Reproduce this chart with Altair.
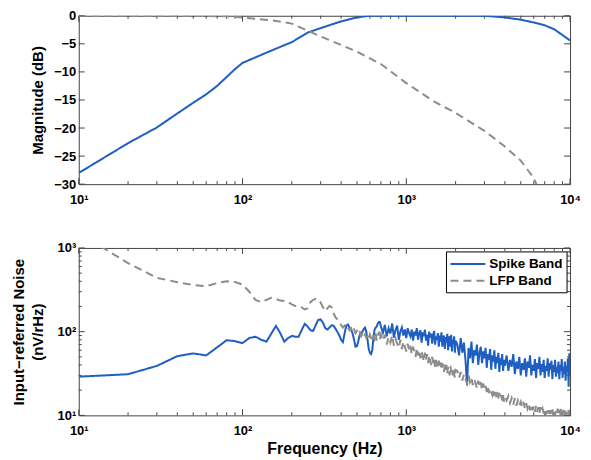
import altair as alt
import pandas as pd

FONT = "Liberation Sans"
BLUE = "#1f5fc2"
GRAY = "#8c8c8c"
FRAME = "#444444"
W, H1, H2 = 493, 169, 168

series_names = ["Spike Band", "LFP Band"]

# ---------------- top panel: magnitude response ----------------
mag_spike_freq = [10, 20, 30, 40, 50, 60, 70, 80, 90, 100, 150, 200, 250, 300, 400, 500, 600, 700,
                  1000, 2000, 3000, 4000, 5000, 6000, 7000, 8000, 10000]
mag_spike_db = [-28, -22.7, -19.9, -17.4, -15.5, -14, -12.5, -10.9, -9.5, -8.4, -6.2, -4.7, -3.0, -2.2,
                -1.0, -0.3, 0, 0, 0, 0, 0, -0.3, -0.7, -1.2, -1.7, -2.4, -4.4]
mag_lfp_freq = [10, 50, 80, 100, 150, 200, 300, 400, 500, 700, 1000, 1500, 2000, 3000, 4000, 5000, 6000, 7000]
mag_lfp_db = [0, 0, -0.1, -0.3, -0.8, -1.4, -3.7, -5.2, -6.4, -8.6, -12, -15.4, -17.3, -20.5, -23.3,
              -25.8, -28.9, -33.5]

# ---------------- bottom panel: input-referred noise ----------------
noise_freq = (list(range(10, 710, 10)) + list(range(720, 2020, 20))
              + list(range(2050, 4050, 50)) + list(range(4100, 10100, 100)))

spike_noise = [
    29, 31, 39, 51, 55, 52, 65, 79, 77, 73,
    84, 87, 80, 76, 95, 117, 96, 76, 84, 89,
    87, 87, 105, 124, 115, 104, 102, 120, 138, 140,
    128, 110, 106, 112, 119, 118, 108, 99, 90, 80,
    75, 95, 118, 122, 112, 106, 95, 80, 66, 67,
    78, 92, 97, 100, 108, 112, 100, 80, 62, 56,
    54, 60, 85, 105, 112, 115, 125, 131, 130, 115,
    # 720..2000 step 20
    97, 120, 88, 110, 95, 125, 85, 105, 118, 80,
    100, 112, 90, 106, 84, 110, 96, 88, 106, 78,
    100, 90, 110, 80, 96, 104, 74, 98, 88, 106,
    78, 92, 68, 100, 85, 95, 72, 92, 102, 70,
    88, 80, 96, 66, 90, 76, 98, 66, 84, 90,
    62, 86, 74, 94, 60, 82, 88, 66, 92, 58,
    80, 72, 88, 56, 78,
    # 2050..4000 step 50
    70, 52, 84, 56, 74, 45, 23, 64, 48, 76,
    42, 60, 52, 70, 40, 56, 66, 42, 58, 48,
    64, 37, 54, 46, 62, 35, 52, 44, 60, 36,
    50, 42, 56, 33, 48, 40, 54, 34, 46, 39,
    # 4100..10000 step 100
    52, 34, 46, 38, 54, 31, 44, 36, 50, 30,
    42, 35, 48, 29, 44, 37, 52, 30, 40, 34,
    47, 28, 42, 36, 50, 30, 41, 33, 46, 28,
    39, 34, 48, 29, 42, 35, 45, 27, 40, 33,
    46, 29, 38, 32, 44, 27, 40, 34, 47, 28,
    38, 31, 44, 26, 39, 33, 48, 22, 55, 30,
]

lfp_noise = [
    1500, 660, 440, 390, 360, 350, 380, 400, 392, 365,
    300, 240, 225, 240, 254, 245, 235, 233, 225, 212,
    203, 200, 195, 184, 190, 225, 240, 247, 240, 222,
    195, 176, 190, 203, 195, 165, 148, 140, 132, 120,
    112, 118, 108, 112, 104, 110, 98, 106, 96, 102,
    92, 98, 88, 94, 85, 92, 84, 88, 80, 92,
    84, 76, 90, 82, 96, 78, 86, 100, 80, 92,
    # 720..2000 step 20
    78, 92, 70, 86, 74, 90, 68, 82, 72, 64,
    80, 62, 76, 66, 58, 72, 60, 68, 54, 66,
    58, 50, 64, 52, 60, 48, 58, 50, 44, 56,
    46, 54, 42, 52, 45, 40, 50, 42, 47, 38,
    46, 40, 36, 45, 38, 43, 35, 42, 37, 33,
    41, 35, 40, 32, 38, 34, 30, 39, 33, 37,
    30, 36, 32, 28, 35,
    # 2050..4000 step 50
    34, 28, 33, 26, 31, 27, 24, 30, 25, 28,
    23, 27, 24, 21, 26, 22, 25, 20, 24, 21,
    23, 19, 22, 18.5, 21, 19, 17.5, 20.5, 17, 19.5,
    16.5, 19, 16, 18.5, 16, 17.5, 15, 17.5, 14.5, 16.5,
    # 4100..10000 step 100
    15, 17, 14, 16, 13.5, 16, 13, 15, 13, 14.5,
    12.5, 14.5, 12, 14, 12, 13.5, 11.5, 13.5, 11.5, 13,
    11, 13, 11, 12.5, 10.5, 12.5, 11, 12, 10.5, 12,
    10, 12, 10.5, 11.5, 10, 11.5, 10.5, 12, 10, 11.5,
    10, 11.5, 10.5, 12, 10, 11, 10.5, 12, 10, 11.5,
    10, 11, 10.5, 12, 9.8, 11, 10.2, 11.5, 10, 11,
]

# ---------------- ticks and labels ----------------
x_major = [10, 100, 1000, 10000]
x_major_labels = ["10¹", "10²", "10³", "10⁴"]
x_minor = [20, 30, 40, 50, 60, 70, 80, 90, 200, 300, 400, 500, 600, 700, 800, 900,
           2000, 3000, 4000, 5000, 6000, 7000, 8000, 9000]
top_y_major = [-30, -25, -20, -15, -10, -5, 0]
bot_y_major = [10, 100, 1000]
bot_y_major_labels = ["10¹", "10²", "10³"]
bot_y_minor = [20, 30, 40, 50, 60, 70, 80, 90, 200, 300, 400, 500, 600, 700, 800, 900]


def label_expr(vals, labels):
    expr = "''"
    for v, l in reversed(list(zip(vals, labels))):
        expr = f"datum.value == {v} ? '{l}' : ({expr})"
    return expr


x_scale = alt.Scale(type="log", domain=[10, 10000], nice=False)
top_y_scale = alt.Scale(domain=[-30, 0], nice=False, zero=False)
bot_y_scale = alt.Scale(type="log", domain=[10, 1000], nice=False)
color_scale = alt.Scale(domain=series_names, range=[BLUE, GRAY])
dash_scale = alt.Scale(domain=series_names, range=[[1, 0], [8, 5]])

top_x_axis = alt.Axis(values=x_major, labelExpr=label_expr(x_major, x_major_labels),
                      labelFlush=False, labelPadding=9, title=None)
bot_x_axis = alt.Axis(values=x_major, labelExpr=label_expr(x_major, x_major_labels),
                      labelFlush=False, labelPadding=9, title="Frequency (Hz)",
                      titleFontSize=16, titlePadding=3)
top_y_axis = alt.Axis(values=top_y_major, format="d", labelPadding=3,
                      title="Magnitude (dB)", titlePadding=8)
bot_y_axis = alt.Axis(values=bot_y_major, labelExpr=label_expr(bot_y_major, bot_y_major_labels),
                      labelPadding=3, title=["Input−referred Noise", "(nV/rHz)"],
                      titlePadding=12, titleLineHeight=19)


def tick_layers(y_scale, x_ax, y_ax, ymaj, ymin, h):
    layers = []
    for vals, L in ((x_major, 6), (x_minor, 3)):
        base = alt.Chart(pd.DataFrame({"t": vals})).mark_rule(color=FRAME, strokeWidth=1)
        xenc = alt.X("t:Q", scale=x_scale, axis=x_ax)
        layers.append(base.encode(x=xenc, y=alt.value(0), y2=alt.value(L)))
        layers.append(base.encode(x=xenc, y=alt.value(h), y2=alt.value(h - L)))
    for vals, L in ((ymaj, 6), (ymin, 3)):
        if not vals:
            continue
        base = alt.Chart(pd.DataFrame({"t": vals})).mark_rule(color=FRAME, strokeWidth=1)
        yenc = alt.Y("t:Q", scale=y_scale, axis=y_ax)
        layers.append(base.encode(y=yenc, x=alt.value(0), x2=alt.value(L)))
        layers.append(base.encode(y=yenc, x=alt.value(W), x2=alt.value(W - L)))
    return layers


def line_layers(df, y_scale, x_ax, y_ax):
    out = []
    for name in series_names:
        out.append(
            alt.Chart(df).transform_filter(alt.datum.series == name)
            .mark_line(clip=True, strokeWidth=2)
            .encode(
                x=alt.X("f:Q", scale=x_scale, axis=x_ax),
                y=alt.Y("v:Q", scale=y_scale, axis=y_ax),
                color=alt.Color("series:N", scale=color_scale, legend=None),
                strokeDash=alt.StrokeDash("series:N", scale=dash_scale, legend=None),
                order=alt.Order("f:Q"),
            )
        )
    return out


def legend_layers():
    # boxed legend drawn inside the bottom panel, top-right corner
    box_x0, box_x1, box_y0, box_y1 = 369, 490, 4, 45
    rows = [16, 33]
    out = [
        alt.Chart(pd.DataFrame({"series": series_names[:1]})).mark_rect(
            fill="white", stroke="black", strokeWidth=1)
        .encode(x=alt.value(box_x0), x2=alt.value(box_x1), y=alt.value(box_y0), y2=alt.value(box_y1))
    ]
    for name, ry in zip(series_names, rows):
        d = pd.DataFrame({"series": [name]})
        out.append(
            alt.Chart(d).mark_rule(strokeWidth=2).encode(
                x=alt.value(box_x0 + 4), x2=alt.value(box_x0 + 39), y=alt.value(ry),
                color=alt.Color("series:N", scale=color_scale, legend=None),
                strokeDash=alt.StrokeDash("series:N", scale=dash_scale, legend=None),
            )
        )
        out.append(
            alt.Chart(d).mark_text(align="left", baseline="middle", font=FONT, fontWeight="bold",
                                   fontSize=13.5, color="black")
            .encode(x=alt.value(box_x0 + 43), y=alt.value(ry), text="series:N")
        )
    return out


top_df = pd.concat([
    pd.DataFrame({"f": mag_spike_freq, "v": mag_spike_db, "series": series_names[0]}),
    pd.DataFrame({"f": mag_lfp_freq, "v": mag_lfp_db, "series": series_names[1]}),
])
bot_df = pd.concat([
    pd.DataFrame({"f": noise_freq, "v": spike_noise, "series": series_names[0]}),
    pd.DataFrame({"f": noise_freq, "v": lfp_noise, "series": series_names[1]}),
])

top = alt.layer(
    *tick_layers(top_y_scale, top_x_axis, top_y_axis, top_y_major, [], H1),
    *line_layers(top_df, top_y_scale, top_x_axis, top_y_axis),
).properties(width=W, height=H1)

bottom = alt.layer(
    *tick_layers(bot_y_scale, bot_x_axis, bot_y_axis, bot_y_major, bot_y_minor, H2),
    *line_layers(bot_df, bot_y_scale, bot_x_axis, bot_y_axis),
    *legend_layers(),
).properties(width=W, height=H2)

chart = (
    alt.vconcat(top, bottom, spacing=34)
    .properties(padding={"left": 2, "top": 0, "right": 2, "bottom": 0}, background="white")
    .configure_view(stroke=FRAME, strokeWidth=1)
    .configure_axis(labelFont=FONT, labelFontWeight="bold", labelFontSize=13, labelColor="black",
                    titleFont=FONT, titleFontWeight="bold", titleFontSize=15, titleColor="black",
                    ticks=False, domain=False, grid=False)
)

chart.save("out.html", embed_options={"renderer": "svg", "actions": False})
